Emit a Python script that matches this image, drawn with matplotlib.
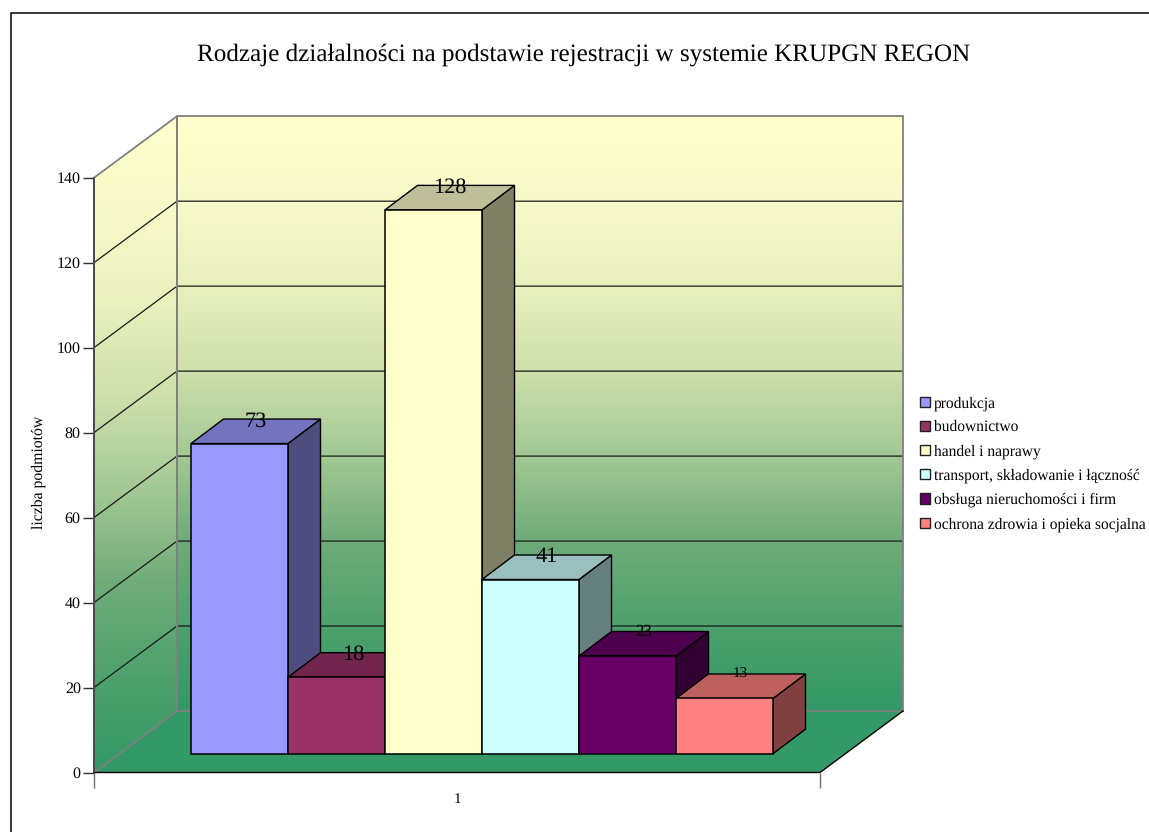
import numpy as np
import matplotlib
matplotlib.use("Agg")
import matplotlib.pyplot as plt
from matplotlib.lines import Line2D
from matplotlib.patches import Patch, Polygon
from matplotlib.colors import to_rgb

title = "Rodzaje działalności na podstawie rejestracji w systemie KRUPGN REGON"
categories = ["produkcja", "budownictwo", "handel i naprawy",
              "transport, składowanie i łączność",
              "obsługa nieruchomości i firm",
              "ochrona zdrowia i opieka socjalna"]
values = [73, 18, 128, 41, 23, 13]
colors = ["#9999FF", "#993366", "#FFFFCC", "#CCFFFF", "#660066", "#FF8080"]
label_sizes = [16, 16, 16, 16, 12, 11]
y_ticks = [0, 20, 40, 60, 80, 100, 120, 140]
y_label = "liczba podmiotów"
x_label = "1"
grad_pos = [0, .14, .285, .43, .50, .57, .71, .857, 1]
grad_cols = ["#FFFFCC", "#F8F9C8", "#E8F0BC", "#CDDFA9", "#B7D3A0",
             "#A3C893", "#6FAB7A", "#4DA06C", "#339966"]

W, H = 1149, 832
plt.rcParams["font.family"] = ["Liberation Serif", "DejaVu Serif"]
plt.rcParams["text.hinting"] = "no_hinting"
plt.rcParams["text.hinting_factor"] = 8
fig = plt.figure(figsize=(W / 100, H / 100), dpi=100, facecolor="white")
L, R, B, T = 94, 820, 772.5, 177.7
ax = fig.add_axes([L / W, 1 - B / H, (R - L) / W, (B - T) / H])
ax.set_facecolor("none")
XMIN, XMAX = -1.0, (R - 191) / 97
YMAX = 140

DX, DY = 83 / 97, 61.5 / 4.249      # room depth in data units
BX, BY = 32.5 / 97, 24.5 / 4.249    # bar depth
BASE = 18.8 / 4.249                 # front-bottom of bars above room front


def shade(c, f):
    return tuple(v * f for v in to_rgb(c))


def poly(pts, **kw):
    p = Polygon(pts, closed=True, clip_on=False, **kw)
    ax.add_patch(p)
    return p


def gradient(y0, y1, clip, z):
    rgb = np.array([to_rgb(c) for c in grad_cols])
    t = np.linspace(0, 1, 300)
    img = np.stack([np.interp(t, grad_pos, rgb[:, k]) for k in range(3)], axis=1)[:, None, :]
    ye = np.linspace(y1, y0, 301)
    xe = np.array([XMIN, XMAX + DX])
    m = ax.pcolormesh(xe, ye, img, zorder=z, shading="flat")
    m.set_clip_box(None)
    m.set_clip_path(clip)


WALL = "#808080"
# back wall, left wall, floor
back = [(XMIN + DX, DY), (XMAX + DX, DY), (XMAX + DX, DY + YMAX), (XMIN + DX, DY + YMAX)]
left = [(XMIN, 0), (XMIN + DX, DY), (XMIN + DX, DY + YMAX), (XMIN, YMAX)]
floor = [(XMIN, 0), (XMAX, 0), (XMAX + DX, DY), (XMIN + DX, DY)]
pb = poly(back, fc="none", ec="none", zorder=1)
pl = poly(left, fc="none", ec="none", zorder=1)
gradient(DY, DY + YMAX, pb, 1)
gradient(0, DY + YMAX, pl, 1)
poly(floor, fc="#339966", ec="none", zorder=1.5)

for v in y_ticks[1:-1]:
    ax.plot([XMIN, XMIN + DX, XMAX + DX], [v, v + DY, v + DY], color="#1a1a1a",
            lw=0.9, clip_on=False, zorder=2, solid_joinstyle="miter")
poly(back, fc="none", ec=WALL, lw=1.3, zorder=2.2)
poly(left, fc="none", ec=WALL, lw=1.3, zorder=2.2)
ax.plot([XMIN, XMAX, XMAX + DX], [0, 0, DY], color="black", lw=1.0, clip_on=False, zorder=2.3)
ax.plot([XMIN, XMIN], [0, YMAX], color="#404040", lw=1.2, clip_on=False, zorder=2.3)

# bars
for i, (v, c) in enumerate(zip(values, colors)):
    z = 3 + i * 0.1
    x0, x1 = i, i + 1
    y0, y1 = BASE, BASE + v
    poly([(x1, y0), (x1 + BX, y0 + BY), (x1 + BX, y1 + BY), (x1, y1)],
         fc=shade(c, 0.5), ec="black", lw=1.0, zorder=z, joinstyle="miter")
    poly([(x0, y1), (x1, y1), (x1 + BX, y1 + BY), (x0 + BX, y1 + BY)],
         fc=shade(c, 0.75), ec="black", lw=1.0, zorder=z, joinstyle="miter")
    ax.bar(x0, v, width=1, bottom=BASE, align="edge", color=c, edgecolor="black",
           linewidth=1.1, zorder=z + 0.01, clip_on=False)
for i, (v, s) in enumerate(zip(values, label_sizes)):
    off = -0.5 if s > 13 else -0.1
    ax.text(i + 0.5 + BX / 2, BASE + v + BY + off, str(v), ha="center", va="center",
            fontsize=s, color="black", zorder=6, clip_on=False)

# axes furniture
ax.set_xlim(XMIN, XMAX)
ax.set_ylim(0, 140)
for sp in ax.spines.values():
    sp.set_visible(False)
ax.set_yticks(y_ticks)
ax.tick_params(axis="y", length=8, width=1, color="#303030", labelsize=11.5, pad=1.5,
               labelcolor="black")
ax.set_xticks([XMIN, XMAX])
ax.set_xticklabels(["", ""])
ax.tick_params(axis="x", length=11, width=1, color="#707070")
ax.set_xticks([(457 - 191) / 97], minor=True)
ax.set_xticklabels([x_label], minor=True, fontsize=11)
ax.tick_params(axis="x", which="minor", length=0, pad=14.5)
ax.set_ylabel(y_label, fontsize=11.3)
ax.yaxis.set_label_coords((46 - L) / (R - L), (B - 472) / (B - T))

# legend
handles = [Patch(facecolor=c, edgecolor="#202020", linewidth=1.0) for c in colors]
leg = ax.legend(handles, categories, loc="upper left",
                bbox_to_anchor=((920 - L) / (R - L), (B - 396) / (B - T)),
                frameon=False, fontsize=11.2, handlelength=0.62, handleheight=0.62,
                handletextpad=0.28, labelspacing=0.62, borderpad=0, borderaxespad=0)
leg.set_zorder(7)

# outer frame and title
fig.add_artist(Line2D([10.5 / W, 10.5 / W, 1], [0, 1 - 13 / H, 1 - 13 / H],
                      color="black", lw=1.1))
fig.text(584 / W, 1 - 55 / H, title, ha="center", va="center", fontsize=18.1, color="black")

fig.savefig("out.png", dpi=100)
